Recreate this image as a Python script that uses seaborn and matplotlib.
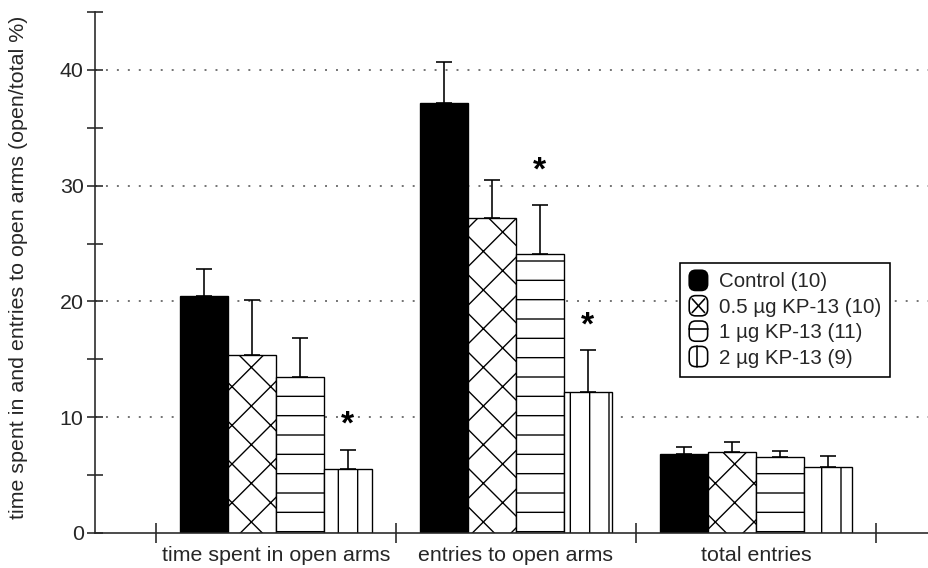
import matplotlib
matplotlib.use("Agg")
import matplotlib.pyplot as plt
import seaborn as sns
import pandas as pd
from matplotlib.patches import Patch, FancyBboxPatch
from matplotlib.lines import Line2D
from matplotlib.legend_handler import HandlerBase
from matplotlib.ticker import MultipleLocator, FixedLocator

# Elevated plus maze measures per treatment group (mean and upper SEM)
measures = ["time spent in open arms", "entries to open arms", "total entries"]
doses = ["Control (10)", "0.5 µg KP-13 (10)", "1 µg KP-13 (11)", "2 µg KP-13 (9)"]

control_mean = [20.5, 37.1, 6.8]
kp05_mean = [15.4, 27.2, 7.0]
kp1_mean = [13.5, 24.1, 6.6]
kp2_mean = [5.5, 12.2, 5.7]

control_sem = [2.3, 3.6, 0.6]
kp05_sem = [4.7, 3.3, 0.9]
kp1_sem = [3.3, 4.2, 0.5]
kp2_sem = [1.7, 3.6, 0.95]

# significance markers: (measure, dose, height)
stars = [
    ("time spent in open arms", "2 µg KP-13 (9)", 9.3),
    ("entries to open arms", "1 µg KP-13 (11)", 31.3),
    ("entries to open arms", "2 µg KP-13 (9)", 17.9),
]

means = [control_mean, kp05_mean, kp1_mean, kp2_mean]
sems = [control_sem, kp05_sem, kp1_sem, kp2_sem]
face = ["black", "white", "white", "white"]
hatches = ["", "x", "-", "|"]

rows = []
for d, m, s in zip(doses, means, sems):
    for meas, v, e in zip(measures, m, s):
        rows.append({"measure": meas, "dose": d, "value": v, "sem": e})
df = pd.DataFrame(rows)

sns.set_style("ticks")
plt.rcParams["font.family"] = ["Liberation Sans", "DejaVu Sans"]
plt.rcParams["hatch.linewidth"] = 0.85
plt.rcParams["hatch.color"] = "black"

FS = 13.3

fig = plt.figure(figsize=(8, 568 / 116), dpi=116)
ax = fig.add_axes([95 / 928, 35 / 568, 833 / 928, 521 / 568])

sns.barplot(data=df, x="measure", y="value", hue="dose", order=measures,
            hue_order=doses, palette=face, edgecolor="black", linewidth=0.85,
            width=0.8, gap=0, errorbar=None, legend=False, ax=ax, zorder=2)

centers = {}
for cont, d, h in zip(ax.containers, doses, hatches):
    sub = df[df["dose"] == d].set_index("measure").loc[measures]
    xs = []
    for bar in cont:
        bar.set_hatch(h)
        bar.set_edgecolor("black")
        xs.append(bar.get_x() + bar.get_width() / 2)
    centers[d] = dict(zip(measures, xs))
    ax.errorbar(xs, sub["value"], yerr=[[0] * len(xs), sub["sem"]], fmt="none",
                ecolor="black", elinewidth=1.0, capsize=4.8, capthick=1.0, zorder=1)

for meas, d, yv in stars:
    ax.text(centers[d][meas], yv, "*", ha="center", va="center",
            fontsize=21, fontweight="bold", color="black")

ax.set_xlim(-0.754, -0.754 + 833 / 240)
ax.set_ylim(0, 45)

ax.yaxis.set_major_locator(FixedLocator([0, 10, 20, 30, 40]))
ax.yaxis.set_minor_locator(MultipleLocator(5))
ax.tick_params(axis="y", which="both", direction="inout", length=10, width=1.0,
               labelsize=FS, pad=2)
ax.xaxis.set_minor_locator(FixedLocator([-0.5, 0.5, 1.5, 2.5]))
ax.tick_params(axis="x", which="major", length=0, labelsize=FS, pad=8)
ax.tick_params(axis="x", which="minor", direction="inout", length=12, width=1.0)

ax.set_axisbelow(True)
for yv in [10, 20, 30, 40]:
    ax.axhline(yv, color="#555555", lw=1.0, ls=(0, (1.2, 5.6)), zorder=0)

sns.despine(ax=ax)
for s in ["left", "bottom"]:
    ax.spines[s].set_linewidth(1.0)

ax.set_xlabel("")
ax.set_ylabel("time spent in and entries to open arms (open/total %)",
              fontsize=FS)
ax.yaxis.set_label_coords(-0.081, 0.51)


class RoundedSwatch(HandlerBase):
    """Rounded square legend key with a single stroke of the bar's pattern."""

    def create_artists(self, legend, orig_handle, xdescent, ydescent, width,
                       height, fontsize, trans):
        x0, y0 = -xdescent, -ydescent - 0.12 * height
        w, h = width, height * 1.24
        box = FancyBboxPatch((x0, y0), w, h,
                             boxstyle="round,pad=0,rounding_size=4",
                             facecolor=orig_handle.get_facecolor(),
                             edgecolor="black", linewidth=1.0, transform=trans)
        arts = [box]
        pat = orig_handle.get_hatch() or ""
        kw = dict(color="black", lw=1.0, transform=trans)
        if "x" in pat:
            i = 0.16
            arts.append(Line2D([x0 + i * w, x0 + (1 - i) * w],
                               [y0 + i * h, y0 + (1 - i) * h], **kw))
            arts.append(Line2D([x0 + i * w, x0 + (1 - i) * w],
                               [y0 + (1 - i) * h, y0 + i * h], **kw))
        elif "-" in pat:
            arts.append(Line2D([x0, x0 + w], [y0 + 0.6 * h] * 2, **kw))
        elif "|" in pat:
            arts.append(Line2D([x0 + 0.4 * w] * 2, [y0, y0 + h], **kw))
        return arts


handles = [Patch(facecolor=f, edgecolor="black", hatch=h, linewidth=1.0, label=d)
           for f, h, d in zip(face, hatches, doses)]
leg = fig.legend(handles=handles, loc="upper left",
                 bbox_to_anchor=(680 / 928, 1 - 263 / 568),
                 bbox_transform=fig.transFigure, borderaxespad=0,
                 fontsize=12.7, frameon=True, fancybox=False, framealpha=1,
                 edgecolor="black", handlelength=0.9, handleheight=0.85,
                 handletextpad=0.55, labelspacing=0.3, borderpad=0.45,
                 handler_map={Patch: RoundedSwatch()})
leg.get_frame().set_linewidth(1.0)

fig.savefig("out.png", dpi=116)
